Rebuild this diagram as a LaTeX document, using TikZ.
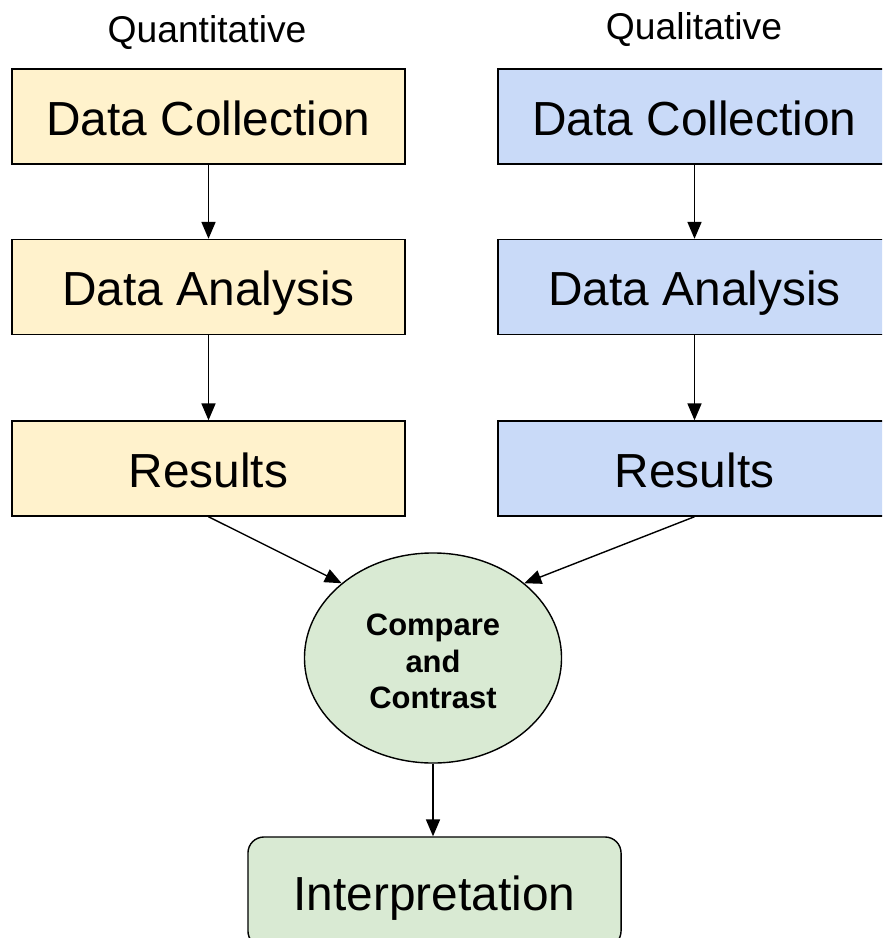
\documentclass[tikz,border=0pt]{standalone}
\usepackage{fontspec}
\setmainfont{Liberation Sans}
\usepackage{xcolor}
\usetikzlibrary{shapes.geometric, arrows.meta, positioning, calc}

\definecolor{quantfill}{HTML}{FFF2CC}
\definecolor{qualfill}{HTML}{C9DAF8}
\definecolor{mixfill}{HTML}{D9EAD3}

\begin{document}
\begin{tikzpicture}[x=0.025cm, y=-0.025cm,
  stage/.style={draw, line width=1pt, minimum width=9.825cm, minimum height=2.375cm,
    font=\fontsize{34}{40}\selectfont, inner sep=0pt, text height=30.6pt, text depth=4pt},
  strand/.style={font=\fontsize{26.5}{30}\selectfont, inner sep=0pt},
  flow/.style={line width=1pt, -{Triangle[length=12pt, width=10pt]}}]
\useasboundingbox (0,0) rectangle (882,938);
\clip (0,0) rectangle (882,938);

\node[strand] (quant) at (207,33) {Quantitative};
\node[strand] (qual) at (694,30) {Qualitative};

\node[stage, fill=quantfill] (qncol) at (208.5,116.5) {Data Collection};
\node[stage, fill=quantfill] (qnana) at (208.5,287) {Data Analysis};
\node[stage, fill=quantfill] (qnres) at (208.5,468.5) {Results};

\node[stage, fill=qualfill] (qlcol) at (694.5,116.5) {Data Collection};
\node[stage, fill=qualfill] (qlana) at (694.5,287) {Data Analysis};
\node[stage, fill=qualfill] (qlres) at (694.5,468.5) {Results};

\node[draw, ellipse, line width=1pt, fill=mixfill, minimum width=6.425cm, minimum height=5.25cm,
  inner sep=0pt, align=center, font=\bfseries\fontsize{22}{26}\selectfont] (cmp) at (433,658)
  {\\[-0.2cm]Compare\\and\\Contrast};

\node[draw, rounded corners=0.4cm, line width=1pt, fill=mixfill, minimum width=9.325cm,
  minimum height=2.75cm, inner sep=0pt, font=\fontsize{34}{40}\selectfont,
  text height=30.6pt, text depth=4pt] (interp) at (434.5,892) {Interpretation};

\draw[flow] (qncol) -- (qnana);
\draw[flow] (qnana) -- (qnres);
\draw[flow] (qlcol) -- (qlana);
\draw[flow] (qlana) -- (qlres);
\draw[flow] (qnres.south) -- (cmp.north west);
\draw[flow] (qlres.south) -- (cmp.north east);
\draw[flow] (cmp) -- (cmp |- interp.north);
\end{tikzpicture}
\end{document}
